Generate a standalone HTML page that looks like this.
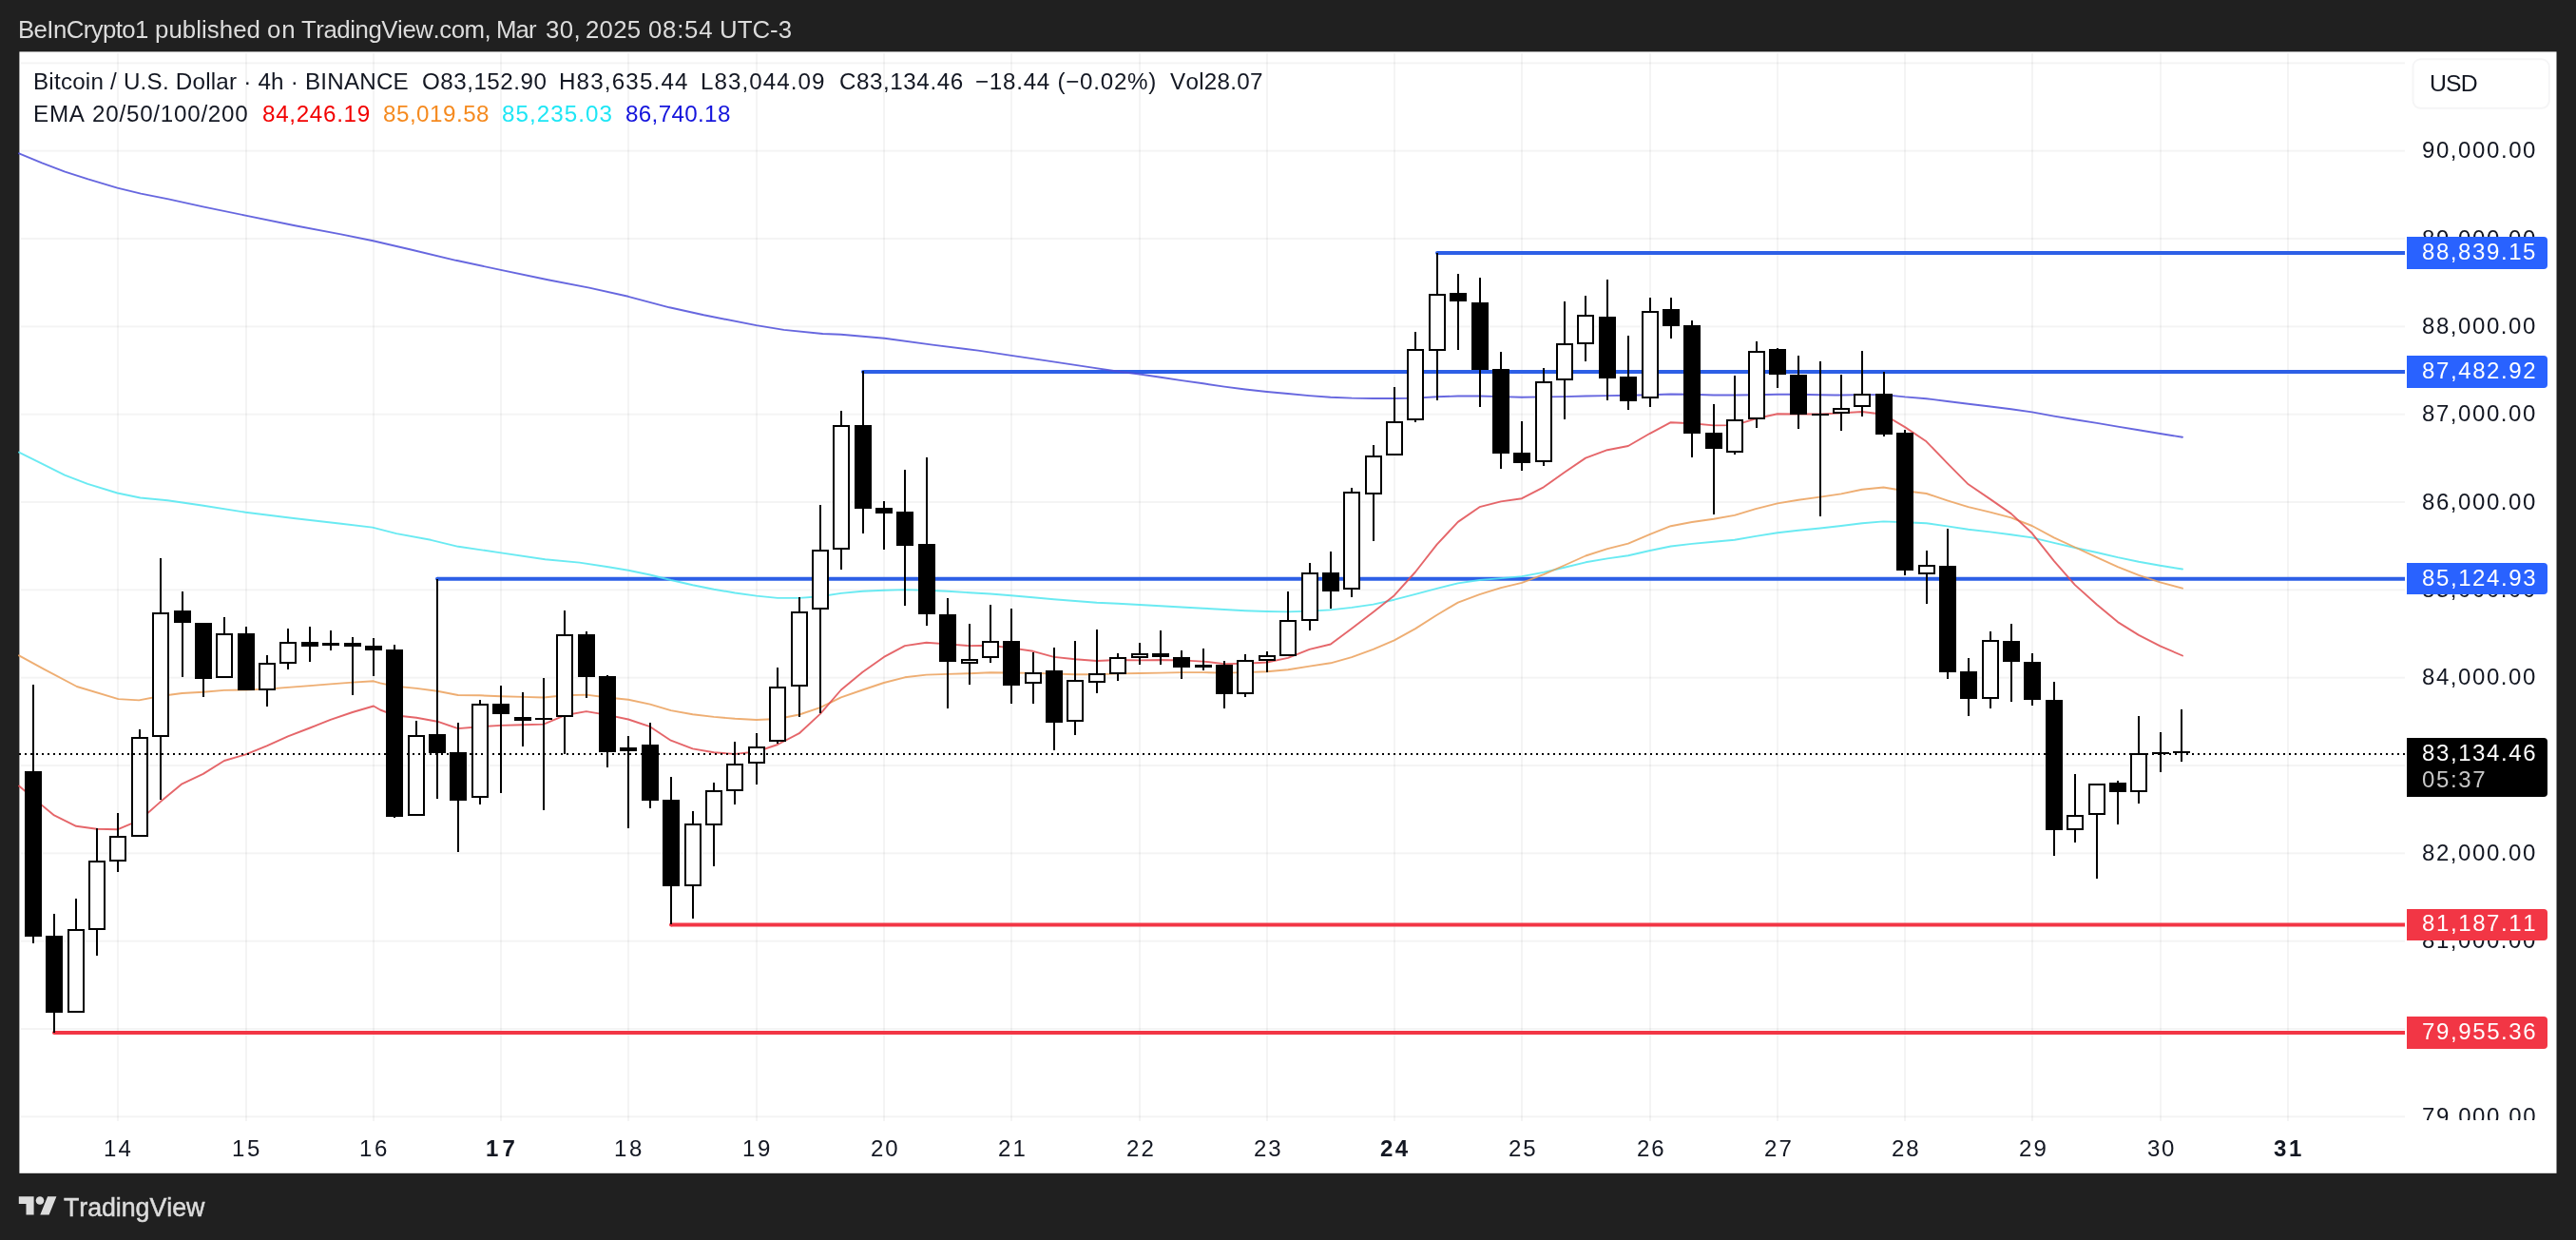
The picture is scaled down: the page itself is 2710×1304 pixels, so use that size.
<!DOCTYPE html>
<html lang="en"><head><meta charset="utf-8"><title>BTCUSD 4h chart</title>
<style>
html,body{margin:0;padding:0}
body{width:2710px;height:1304px;background:#202020;position:relative;overflow:hidden;font-family:"Liberation Sans",sans-serif}
#cv{position:absolute;left:0;top:0}
.t{position:absolute;white-space:pre;font-kerning:none;will-change:transform;}
.bx{position:absolute;left:2532px;width:148px;border-radius:0 4px 4px 0}
</style></head><body>
<svg id="cv" width="2710" height="1304" viewBox="0 0 2710 1304" shape-rendering="auto">
<rect x="20.4" y="54.4" width="2669.1" height="1179.4" fill="#ffffff"/>
<g fill="#000" fill-opacity="0.045"><rect x="123" y="56" width="2" height="1123"/><rect x="258" y="56" width="2" height="1123"/><rect x="392" y="56" width="2" height="1123"/><rect x="526" y="56" width="2" height="1123"/><rect x="660" y="56" width="2" height="1123"/><rect x="795" y="56" width="2" height="1123"/><rect x="929" y="56" width="2" height="1123"/><rect x="1063" y="56" width="2" height="1123"/><rect x="1198" y="56" width="2" height="1123"/><rect x="1332" y="56" width="2" height="1123"/><rect x="1466" y="56" width="2" height="1123"/><rect x="1600" y="56" width="2" height="1123"/><rect x="1735" y="56" width="2" height="1123"/><rect x="1869" y="56" width="2" height="1123"/><rect x="2003" y="56" width="2" height="1123"/><rect x="2137" y="56" width="2" height="1123"/><rect x="2272" y="56" width="2" height="1123"/><rect x="2406" y="56" width="2" height="1123"/><rect x="22" y="1173.3" width="2508" height="2"/><rect x="22" y="1081.0" width="2508" height="2"/><rect x="22" y="988.7" width="2508" height="2"/><rect x="22" y="896.3" width="2508" height="2"/><rect x="22" y="804.0" width="2508" height="2"/><rect x="22" y="711.7" width="2508" height="2"/><rect x="22" y="619.3" width="2508" height="2"/><rect x="22" y="527.0" width="2508" height="2"/><rect x="22" y="434.7" width="2508" height="2"/><rect x="22" y="342.4" width="2508" height="2"/><rect x="22" y="250.0" width="2508" height="2"/><rect x="22" y="157.7" width="2508" height="2"/><rect x="22" y="65.4" width="2508" height="2"/></g>
<line x1="1512" y1="265.9" x2="2530" y2="265.9" stroke="#2d5fe6" stroke-width="4" stroke-linecap="butt"/>
<circle cx="1512" cy="265.9" r="2" fill="#2d5fe6"/>
<line x1="908" y1="391.1" x2="2530" y2="391.1" stroke="#2d5fe6" stroke-width="4" stroke-linecap="butt"/>
<circle cx="908" cy="391.1" r="2" fill="#2d5fe6"/>
<line x1="460" y1="608.8" x2="2530" y2="608.8" stroke="#2d5fe6" stroke-width="4" stroke-linecap="butt"/>
<circle cx="460" cy="608.8" r="2" fill="#2d5fe6"/>
<line x1="706" y1="972.4" x2="2530" y2="972.4" stroke="#f23645" stroke-width="4" stroke-linecap="butt"/>
<circle cx="706" cy="972.4" r="2" fill="#f23645"/>
<line x1="57" y1="1086.1" x2="2530" y2="1086.1" stroke="#f23645" stroke-width="4" stroke-linecap="butt"/>
<circle cx="57" cy="1086.1" r="2" fill="#f23645"/>
<path d="M20.0,161.3 L44.2,171.4 L68.4,180.6 L92.6,188.4 L123.5,197.6 L148.2,203.6 L177.2,209.4 L213.5,217.4 L258.3,226.6 L310.3,237.2 L358.7,246.4 L392.5,253.2 L431.2,262.2 L479.6,273.8 L526.8,283.9 L576.4,294.3 L619.9,302.6 L660.9,311.8 L704.2,323.3 L740.3,331.3 L795.7,342.1 L824.6,346.9 L865.5,351.0 L884.7,351.7 L930.5,355.8 L981.0,362.6 L1029.1,368.6 L1064.0,373.9 L1101.3,379.4 L1149.5,386.6 L1173.5,390.2 L1198.8,393.5 L1221.0,396.8 L1243.2,400.1 L1265.8,403.3 L1288.0,406.6 L1310.2,409.5 L1332.8,412.0 L1355.0,414.0 L1377.6,416.1 L1399.8,417.7 L1422.0,418.6 L1444.6,419.0 L1466.8,419.0 L1489.0,418.6 L1511.6,417.3 L1533.8,416.5 L1552.3,416.5 L1556.5,416.5 L1579.0,417.1 L1601.0,417.7 L1623.9,417.4 L1645.8,417.1 L1668.1,416.5 L1691.0,416.1 L1712.9,415.8 L1735.8,415.2 L1757.7,414.5 L1780.0,414.8 L1802.9,415.5 L1824.8,415.5 L1847.1,415.2 L1870.0,414.8 L1891.9,414.8 L1914.8,415.2 L1930.6,415.5 L1936.9,415.5 L1959.0,415.1 L1981.5,415.1 L2004.0,417.4 L2026.6,419.2 L2048.6,422.0 L2070.7,424.7 L2093.7,427.5 L2115.7,430.2 L2137.8,433.4 L2160.8,437.6 L2182.9,441.3 L2205.9,444.9 L2227.9,448.6 L2250.0,452.3 L2272.5,456.0 L2296.0,459.7" fill="none" stroke="#4c4cd9" stroke-width="1.9" stroke-opacity="0.85" stroke-linejoin="round" stroke-linecap="round"/>
<path d="M20.0,475.6 L44.1,487.7 L68.1,499.7 L92.2,508.9 L123.5,518.5 L147.6,523.5 L176.4,526.2 L212.5,531.5 L258.3,538.7 L308.8,545.0 L356.9,550.5 L391.8,554.6 L417.1,561.1 L453.2,567.8 L482.1,574.8 L525.4,581.1 L573.5,588.3 L609.7,591.6 L640.0,596.2 L661.0,599.7 L683.9,604.5 L705.8,610.0 L728.7,615.2 L751.0,619.7 L773.2,623.5 L795.8,626.6 L818.1,628.9 L840.8,628.9 L862.8,627.2 L884.8,623.9 L907.5,621.8 L929.9,620.8 L951.9,620.1 L974.6,620.8 L996.9,621.8 L1019.6,623.2 L1042.0,624.5 L1063.7,626.2 L1086.7,628.3 L1108.7,630.3 L1131.1,632.0 L1153.8,633.7 L1176.2,634.8 L1198.8,636.0 L1221.0,637.3 L1243.2,638.5 L1265.8,639.7 L1288.0,641.0 L1310.2,642.2 L1332.8,643.0 L1355.0,643.4 L1377.6,642.6 L1399.8,641.4 L1422.0,638.9 L1444.6,635.6 L1466.8,630.7 L1489.0,624.9 L1511.6,618.8 L1533.8,613.4 L1556.5,610.0 L1579.0,608.1 L1601.0,606.1 L1623.9,601.9 L1645.8,596.8 L1668.1,591.3 L1691.0,587.4 L1712.9,584.2 L1735.8,579.0 L1757.7,574.5 L1780.0,571.9 L1802.9,569.7 L1824.8,567.7 L1847.1,563.9 L1870.0,560.3 L1891.9,557.7 L1914.8,555.5 L1936.9,553.0 L1959.0,550.2 L1981.5,548.4 L2004.0,549.3 L2026.6,550.2 L2048.6,553.4 L2070.7,556.7 L2093.7,559.4 L2115.7,562.2 L2137.8,565.4 L2160.8,570.9 L2182.9,576.0 L2205.9,581.0 L2227.9,586.1 L2250.0,590.7 L2272.5,594.8 L2296.0,598.5" fill="none" stroke="#50e6f0" stroke-width="1.9" stroke-opacity="0.85" stroke-linejoin="round" stroke-linecap="round"/>
<path d="M20.0,689.3 L46.1,703.7 L80.9,722.0 L124.5,735.1 L146.2,736.4 L168.9,732.0 L191.5,729.0 L213.7,727.7 L235.9,725.9 L258.5,725.5 L280.7,724.6 L302.9,722.9 L326.0,721.1 L347.7,719.4 L370.8,717.6 L393.0,716.3 L400.0,718.4 L415.2,721.6 L438.1,723.9 L460.0,726.8 L481.9,731.0 L504.8,731.3 L526.8,732.3 L550.0,732.9 L571.9,733.5 L593.9,731.3 L616.8,730.6 L639.0,733.5 L661.0,735.8 L683.9,740.6 L705.8,747.1 L728.7,751.3 L751.0,753.9 L773.2,755.8 L795.8,757.0 L818.1,756.0 L840.8,751.5 L862.8,744.1 L884.8,733.3 L907.5,725.5 L929.9,718.0 L951.9,712.3 L974.6,709.6 L996.9,708.9 L1019.6,708.2 L1042.0,707.2 L1063.7,707.5 L1086.7,707.9 L1108.7,708.5 L1131.1,709.2 L1153.8,709.2 L1176.2,708.4 L1198.8,708.0 L1221.0,707.6 L1243.2,707.1 L1265.8,707.1 L1288.0,707.6 L1310.2,707.1 L1332.8,706.3 L1355.0,704.3 L1377.6,700.6 L1399.8,697.3 L1422.0,691.1 L1444.6,682.9 L1466.8,673.4 L1489.0,661.1 L1511.6,646.7 L1533.8,633.6 L1556.5,625.2 L1579.0,618.1 L1601.0,612.9 L1623.9,604.2 L1645.8,594.5 L1668.1,584.5 L1691.0,577.1 L1712.9,571.6 L1735.8,561.9 L1757.7,553.2 L1780.0,549.0 L1802.9,545.8 L1824.8,541.9 L1847.1,535.2 L1870.0,529.4 L1891.9,525.8 L1914.8,522.6 L1936.9,519.4 L1959.0,514.8 L1981.5,512.5 L2004.0,516.2 L2026.6,519.0 L2048.6,526.3 L2070.7,533.2 L2093.7,538.7 L2115.7,544.3 L2137.8,553.0 L2160.8,565.4 L2182.9,575.5 L2205.9,586.1 L2227.9,596.2 L2250.0,604.9 L2272.5,612.3 L2296.0,618.7" fill="none" stroke="#eba05a" stroke-width="1.9" stroke-opacity="0.85" stroke-linejoin="round" stroke-linecap="round"/>
<path d="M20.0,826.5 L34.8,839.1 L57.0,857.4 L80.1,868.8 L101.8,871.8 L124.0,872.2 L146.7,862.7 L168.9,843.1 L191.5,824.3 L213.7,813.9 L235.9,800.0 L258.5,793.4 L280.7,784.3 L302.9,774.3 L326.0,765.5 L347.7,756.8 L370.8,749.0 L393.0,742.5 L400.0,746.5 L415.2,752.3 L438.1,754.8 L460.0,758.7 L481.9,766.1 L504.8,764.2 L526.8,762.9 L550.0,762.3 L571.9,761.6 L593.9,752.3 L616.8,748.1 L639.0,751.9 L661.0,756.5 L683.9,764.2 L705.8,778.7 L728.7,787.4 L751.0,791.3 L773.2,792.9 L795.8,790.5 L818.1,783.0 L840.8,771.2 L862.8,750.9 L884.8,725.5 L907.5,706.8 L929.9,690.9 L951.9,679.1 L974.6,675.7 L996.9,677.4 L1019.6,679.1 L1042.0,678.7 L1063.7,681.4 L1086.7,684.8 L1108.7,690.9 L1131.1,693.3 L1153.8,695.0 L1176.2,694.0 L1198.8,694.4 L1221.0,694.0 L1243.2,694.4 L1265.8,695.6 L1288.0,698.1 L1310.2,697.7 L1332.8,696.5 L1355.0,691.9 L1377.6,682.9 L1399.8,677.5 L1422.0,661.1 L1444.6,643.8 L1466.8,626.2 L1489.0,601.5 L1511.6,572.7 L1533.8,548.9 L1556.5,533.2 L1579.0,527.4 L1601.0,524.2 L1623.9,512.3 L1645.8,496.8 L1668.1,481.6 L1691.0,473.2 L1712.9,469.0 L1735.8,455.8 L1757.7,444.2 L1780.0,445.2 L1802.9,447.4 L1824.8,447.1 L1847.1,440.3 L1870.0,435.2 L1891.9,435.5 L1914.8,435.5 L1936.9,434.4 L1959.0,433.0 L1981.5,435.7 L2004.0,449.1 L2026.6,464.3 L2048.6,487.2 L2070.7,509.3 L2093.7,524.9 L2115.7,540.1 L2137.8,560.8 L2160.8,589.8 L2182.9,615.1 L2205.9,635.7 L2227.9,654.1 L2250.0,667.9 L2272.5,679.4 L2296.0,689.5" fill="none" stroke="#e14b50" stroke-width="1.9" stroke-opacity="0.85" stroke-linejoin="round" stroke-linecap="round"/>
<g shape-rendering="crispEdges"><rect x="34" y="720" width="2" height="272" fill="#000"/><rect x="26" y="811" width="18" height="174" fill="#000"/><rect x="56" y="961" width="2" height="125" fill="#000"/><rect x="48" y="984" width="18" height="81" fill="#000"/><rect x="79" y="945" width="2" height="120" fill="#000"/><rect x="72" y="978" width="16" height="86" fill="#fff" stroke="#000" stroke-width="2"/><rect x="101" y="871" width="2" height="134" fill="#000"/><rect x="94" y="906" width="16" height="71" fill="#fff" stroke="#000" stroke-width="2"/><rect x="123" y="855" width="2" height="62" fill="#000"/><rect x="116" y="880" width="16" height="25" fill="#fff" stroke="#000" stroke-width="2"/><rect x="146" y="767" width="2" height="113" fill="#000"/><rect x="139" y="776" width="16" height="103" fill="#fff" stroke="#000" stroke-width="2"/><rect x="168" y="587" width="2" height="254" fill="#000"/><rect x="161" y="645" width="16" height="129" fill="#fff" stroke="#000" stroke-width="2"/><rect x="191" y="622" width="2" height="90" fill="#000"/><rect x="183" y="642" width="18" height="13" fill="#000"/><rect x="213" y="655" width="2" height="78" fill="#000"/><rect x="205" y="655" width="18" height="59" fill="#000"/><rect x="235" y="649" width="2" height="64" fill="#000"/><rect x="228" y="667" width="16" height="45" fill="#fff" stroke="#000" stroke-width="2"/><rect x="258" y="659" width="2" height="67" fill="#000"/><rect x="250" y="666" width="18" height="60" fill="#000"/><rect x="280" y="689" width="2" height="54" fill="#000"/><rect x="273" y="698" width="16" height="27" fill="#fff" stroke="#000" stroke-width="2"/><rect x="302" y="661" width="2" height="43" fill="#000"/><rect x="295" y="676" width="16" height="21" fill="#fff" stroke="#000" stroke-width="2"/><rect x="325" y="659" width="2" height="37" fill="#000"/><rect x="317" y="675" width="18" height="5" fill="#000"/><rect x="347" y="663" width="2" height="21" fill="#000"/><rect x="339" y="676" width="18" height="3" fill="#000"/><rect x="370" y="670" width="2" height="61" fill="#000"/><rect x="362" y="676" width="18" height="4" fill="#000"/><rect x="392" y="671" width="2" height="40" fill="#000"/><rect x="384" y="679" width="18" height="5" fill="#000"/><rect x="414" y="678" width="2" height="182" fill="#000"/><rect x="406" y="683" width="18" height="176" fill="#000"/><rect x="437" y="758" width="2" height="100" fill="#000"/><rect x="430" y="774" width="16" height="83" fill="#fff" stroke="#000" stroke-width="2"/><rect x="459" y="609" width="2" height="231" fill="#000"/><rect x="451" y="772" width="18" height="20" fill="#000"/><rect x="481" y="760" width="2" height="136" fill="#000"/><rect x="473" y="791" width="18" height="51" fill="#000"/><rect x="504" y="736" width="2" height="110" fill="#000"/><rect x="497" y="741" width="16" height="97" fill="#fff" stroke="#000" stroke-width="2"/><rect x="526" y="721" width="2" height="113" fill="#000"/><rect x="518" y="740" width="18" height="11" fill="#000"/><rect x="549" y="728" width="2" height="57" fill="#000"/><rect x="541" y="754" width="18" height="4" fill="#000"/><rect x="571" y="713" width="2" height="139" fill="#000"/><rect x="563" y="755" width="18" height="2" fill="#000"/><rect x="593" y="642" width="2" height="151" fill="#000"/><rect x="586" y="668" width="16" height="85" fill="#fff" stroke="#000" stroke-width="2"/><rect x="616" y="664" width="2" height="70" fill="#000"/><rect x="608" y="667" width="18" height="45" fill="#000"/><rect x="638" y="710" width="2" height="97" fill="#000"/><rect x="630" y="711" width="18" height="80" fill="#000"/><rect x="660" y="774" width="2" height="97" fill="#000"/><rect x="652" y="786" width="18" height="4" fill="#000"/><rect x="683" y="760" width="2" height="90" fill="#000"/><rect x="675" y="783" width="18" height="59" fill="#000"/><rect x="705" y="817" width="2" height="155" fill="#000"/><rect x="697" y="841" width="18" height="91" fill="#000"/><rect x="728" y="853" width="2" height="113" fill="#000"/><rect x="721" y="867" width="16" height="64" fill="#fff" stroke="#000" stroke-width="2"/><rect x="750" y="823" width="2" height="88" fill="#000"/><rect x="743" y="832" width="16" height="35" fill="#fff" stroke="#000" stroke-width="2"/><rect x="772" y="780" width="2" height="66" fill="#000"/><rect x="765" y="804" width="16" height="27" fill="#fff" stroke="#000" stroke-width="2"/><rect x="795" y="771" width="2" height="54" fill="#000"/><rect x="788" y="786" width="16" height="16" fill="#fff" stroke="#000" stroke-width="2"/><rect x="817" y="702" width="2" height="80" fill="#000"/><rect x="810" y="723" width="16" height="56" fill="#fff" stroke="#000" stroke-width="2"/><rect x="840" y="628" width="2" height="126" fill="#000"/><rect x="833" y="644" width="16" height="77" fill="#fff" stroke="#000" stroke-width="2"/><rect x="862" y="531" width="2" height="219" fill="#000"/><rect x="855" y="579" width="16" height="61" fill="#fff" stroke="#000" stroke-width="2"/><rect x="884" y="432" width="2" height="167" fill="#000"/><rect x="877" y="448" width="16" height="129" fill="#fff" stroke="#000" stroke-width="2"/><rect x="907" y="390" width="2" height="171" fill="#000"/><rect x="899" y="447" width="18" height="88" fill="#000"/><rect x="929" y="527" width="2" height="51" fill="#000"/><rect x="921" y="534" width="18" height="6" fill="#000"/><rect x="951" y="494" width="2" height="143" fill="#000"/><rect x="943" y="538" width="18" height="36" fill="#000"/><rect x="974" y="481" width="2" height="177" fill="#000"/><rect x="966" y="572" width="18" height="74" fill="#000"/><rect x="996" y="629" width="2" height="116" fill="#000"/><rect x="988" y="646" width="18" height="50" fill="#000"/><rect x="1019" y="656" width="2" height="64" fill="#000"/><rect x="1012" y="694" width="16" height="3" fill="#fff" stroke="#000" stroke-width="2"/><rect x="1041" y="636" width="2" height="61" fill="#000"/><rect x="1034" y="675" width="16" height="16" fill="#fff" stroke="#000" stroke-width="2"/><rect x="1063" y="640" width="2" height="100" fill="#000"/><rect x="1055" y="674" width="18" height="47" fill="#000"/><rect x="1086" y="686" width="2" height="54" fill="#000"/><rect x="1079" y="708" width="16" height="10" fill="#fff" stroke="#000" stroke-width="2"/><rect x="1108" y="681" width="2" height="108" fill="#000"/><rect x="1100" y="705" width="18" height="55" fill="#000"/><rect x="1130" y="674" width="2" height="99" fill="#000"/><rect x="1123" y="716" width="16" height="42" fill="#fff" stroke="#000" stroke-width="2"/><rect x="1153" y="662" width="2" height="67" fill="#000"/><rect x="1146" y="709" width="16" height="8" fill="#fff" stroke="#000" stroke-width="2"/><rect x="1175" y="687" width="2" height="29" fill="#000"/><rect x="1168" y="692" width="16" height="16" fill="#fff" stroke="#000" stroke-width="2"/><rect x="1198" y="676" width="2" height="23" fill="#000"/><rect x="1191" y="688" width="16" height="3" fill="#fff" stroke="#000" stroke-width="2"/><rect x="1220" y="663" width="2" height="36" fill="#000"/><rect x="1212" y="687" width="18" height="4" fill="#000"/><rect x="1242" y="684" width="2" height="30" fill="#000"/><rect x="1234" y="691" width="18" height="11" fill="#000"/><rect x="1265" y="682" width="2" height="23" fill="#000"/><rect x="1257" y="699" width="18" height="3" fill="#000"/><rect x="1287" y="695" width="2" height="50" fill="#000"/><rect x="1279" y="699" width="18" height="31" fill="#000"/><rect x="1309" y="688" width="2" height="45" fill="#000"/><rect x="1302" y="695" width="16" height="34" fill="#fff" stroke="#000" stroke-width="2"/><rect x="1332" y="685" width="2" height="22" fill="#000"/><rect x="1325" y="690" width="16" height="4" fill="#fff" stroke="#000" stroke-width="2"/><rect x="1354" y="622" width="2" height="68" fill="#000"/><rect x="1347" y="653" width="16" height="36" fill="#fff" stroke="#000" stroke-width="2"/><rect x="1377" y="592" width="2" height="71" fill="#000"/><rect x="1370" y="603" width="16" height="49" fill="#fff" stroke="#000" stroke-width="2"/><rect x="1399" y="580" width="2" height="60" fill="#000"/><rect x="1391" y="602" width="18" height="20" fill="#000"/><rect x="1421" y="513" width="2" height="115" fill="#000"/><rect x="1414" y="518" width="16" height="101" fill="#fff" stroke="#000" stroke-width="2"/><rect x="1444" y="468" width="2" height="101" fill="#000"/><rect x="1437" y="480" width="16" height="39" fill="#fff" stroke="#000" stroke-width="2"/><rect x="1466" y="407" width="2" height="72" fill="#000"/><rect x="1459" y="444" width="16" height="34" fill="#fff" stroke="#000" stroke-width="2"/><rect x="1488" y="349" width="2" height="95" fill="#000"/><rect x="1481" y="368" width="16" height="73" fill="#fff" stroke="#000" stroke-width="2"/><rect x="1511" y="266" width="2" height="155" fill="#000"/><rect x="1504" y="310" width="16" height="58" fill="#fff" stroke="#000" stroke-width="2"/><rect x="1533" y="288" width="2" height="80" fill="#000"/><rect x="1525" y="308" width="18" height="9" fill="#000"/><rect x="1556" y="292" width="2" height="136" fill="#000"/><rect x="1548" y="318" width="18" height="71" fill="#000"/><rect x="1578" y="370" width="2" height="123" fill="#000"/><rect x="1570" y="388" width="18" height="89" fill="#000"/><rect x="1600" y="443" width="2" height="52" fill="#000"/><rect x="1592" y="476" width="18" height="11" fill="#000"/><rect x="1623" y="387" width="2" height="103" fill="#000"/><rect x="1616" y="402" width="16" height="83" fill="#fff" stroke="#000" stroke-width="2"/><rect x="1645" y="317" width="2" height="124" fill="#000"/><rect x="1638" y="362" width="16" height="37" fill="#fff" stroke="#000" stroke-width="2"/><rect x="1667" y="311" width="2" height="69" fill="#000"/><rect x="1660" y="332" width="16" height="29" fill="#fff" stroke="#000" stroke-width="2"/><rect x="1690" y="294" width="2" height="127" fill="#000"/><rect x="1682" y="333" width="18" height="65" fill="#000"/><rect x="1712" y="353" width="2" height="78" fill="#000"/><rect x="1704" y="396" width="18" height="26" fill="#000"/><rect x="1735" y="313" width="2" height="115" fill="#000"/><rect x="1728" y="328" width="16" height="90" fill="#fff" stroke="#000" stroke-width="2"/><rect x="1757" y="313" width="2" height="43" fill="#000"/><rect x="1749" y="325" width="18" height="18" fill="#000"/><rect x="1779" y="337" width="2" height="144" fill="#000"/><rect x="1771" y="342" width="18" height="114" fill="#000"/><rect x="1802" y="425" width="2" height="116" fill="#000"/><rect x="1794" y="455" width="18" height="17" fill="#000"/><rect x="1824" y="395" width="2" height="83" fill="#000"/><rect x="1817" y="442" width="16" height="33" fill="#fff" stroke="#000" stroke-width="2"/><rect x="1847" y="359" width="2" height="91" fill="#000"/><rect x="1840" y="370" width="16" height="70" fill="#fff" stroke="#000" stroke-width="2"/><rect x="1869" y="366" width="2" height="42" fill="#000"/><rect x="1861" y="367" width="18" height="27" fill="#000"/><rect x="1891" y="374" width="2" height="77" fill="#000"/><rect x="1883" y="394" width="18" height="42" fill="#000"/><rect x="1914" y="380" width="2" height="163" fill="#000"/><rect x="1906" y="435" width="18" height="2" fill="#000"/><rect x="1936" y="394" width="2" height="59" fill="#000"/><rect x="1929" y="430" width="16" height="4" fill="#fff" stroke="#000" stroke-width="2"/><rect x="1958" y="369" width="2" height="69" fill="#000"/><rect x="1951" y="415" width="16" height="12" fill="#fff" stroke="#000" stroke-width="2"/><rect x="1981" y="391" width="2" height="68" fill="#000"/><rect x="1973" y="414" width="18" height="43" fill="#000"/><rect x="2003" y="452" width="2" height="153" fill="#000"/><rect x="1995" y="455" width="18" height="145" fill="#000"/><rect x="2026" y="579" width="2" height="56" fill="#000"/><rect x="2019" y="595" width="16" height="8" fill="#fff" stroke="#000" stroke-width="2"/><rect x="2048" y="556" width="2" height="158" fill="#000"/><rect x="2040" y="595" width="18" height="112" fill="#000"/><rect x="2070" y="692" width="2" height="61" fill="#000"/><rect x="2062" y="706" width="18" height="29" fill="#000"/><rect x="2093" y="664" width="2" height="81" fill="#000"/><rect x="2086" y="674" width="16" height="60" fill="#fff" stroke="#000" stroke-width="2"/><rect x="2115" y="656" width="2" height="82" fill="#000"/><rect x="2107" y="674" width="18" height="22" fill="#000"/><rect x="2137" y="687" width="2" height="55" fill="#000"/><rect x="2129" y="696" width="18" height="40" fill="#000"/><rect x="2160" y="717" width="2" height="183" fill="#000"/><rect x="2152" y="736" width="18" height="137" fill="#000"/><rect x="2182" y="814" width="2" height="72" fill="#000"/><rect x="2175" y="858" width="16" height="14" fill="#fff" stroke="#000" stroke-width="2"/><rect x="2205" y="824" width="2" height="100" fill="#000"/><rect x="2198" y="825" width="16" height="31" fill="#fff" stroke="#000" stroke-width="2"/><rect x="2227" y="821" width="2" height="46" fill="#000"/><rect x="2219" y="823" width="18" height="10" fill="#000"/><rect x="2249" y="753" width="2" height="92" fill="#000"/><rect x="2242" y="793" width="16" height="39" fill="#fff" stroke="#000" stroke-width="2"/><rect x="2272" y="770" width="2" height="42" fill="#000"/><rect x="2264" y="791" width="18" height="2" fill="#000"/><rect x="2294" y="746" width="2" height="55" fill="#000"/><rect x="2286" y="790" width="18" height="2" fill="#000"/></g>
<line x1="20" y1="793" x2="2530" y2="793" stroke="#000" stroke-width="2" stroke-dasharray="2 4" shape-rendering="crispEdges"/>
<rect x="2538.5" y="62.3" width="143.3" height="51.5" rx="8" fill="#fff" stroke="#f5f5f6" stroke-width="2"/>
</svg>
<div class="t" style="left:2547.87px;top:1162.01px;font-size:24px;line-height:24px;color:#131722;letter-spacing:1.6px;clip-path:inset(0 0 8.6px 0);">79,000.00</div><div class="t" style="left:2548.06px;top:977.35px;font-size:24px;line-height:24px;color:#131722;letter-spacing:1.576px;">81,000.00</div><div class="t" style="left:2548.06px;top:885.02px;font-size:24px;line-height:24px;color:#131722;letter-spacing:1.576px;">82,000.00</div><div class="t" style="left:2548.06px;top:792.69px;font-size:24px;line-height:24px;color:#131722;letter-spacing:1.576px;">83,000.00</div><div class="t" style="left:2548.06px;top:700.36px;font-size:24px;line-height:24px;color:#131722;letter-spacing:1.576px;">84,000.00</div><div class="t" style="left:2548.06px;top:608.03px;font-size:24px;line-height:24px;color:#131722;letter-spacing:1.576px;">85,000.00</div><div class="t" style="left:2548.06px;top:515.70px;font-size:24px;line-height:24px;color:#131722;letter-spacing:1.576px;">86,000.00</div><div class="t" style="left:2548.06px;top:423.37px;font-size:24px;line-height:24px;color:#131722;letter-spacing:1.576px;">87,000.00</div><div class="t" style="left:2548.06px;top:331.04px;font-size:24px;line-height:24px;color:#131722;letter-spacing:1.576px;">88,000.00</div><div class="t" style="left:2548.06px;top:238.71px;font-size:24px;line-height:24px;color:#131722;letter-spacing:1.576px;">89,000.00</div><div class="t" style="left:2547.97px;top:146.38px;font-size:24px;line-height:24px;color:#131722;letter-spacing:1.587px;">90,000.00</div>
<div class="bx" style="top:249.2px;height:33.4px;background:#2962ff"></div><div class="bx" style="top:374.4px;height:33.4px;background:#2962ff"></div><div class="bx" style="top:592.1px;height:33.4px;background:#2962ff"></div><div class="bx" style="top:955.7px;height:33.4px;background:#f23645"></div><div class="bx" style="top:1069.4px;height:33.4px;background:#f23645"></div><div class="bx" style="top:776px;height:61.8px;background:#000"></div>
<div class="t" style="left:19.48px;top:19.06px;font-size:25.8px;line-height:25.8px;color:#dcdcdc;letter-spacing:-0.594px;">BeInCrypto1</div><div class="t" style="left:163.44px;top:19.06px;font-size:25.8px;line-height:25.8px;color:#dcdcdc;letter-spacing:0.059px;">published</div><div class="t" style="left:280.52px;top:19.06px;font-size:25.8px;line-height:25.8px;color:#dcdcdc;letter-spacing:0.961px;">on</div><div class="t" style="left:316.82px;top:19.06px;font-size:25.8px;line-height:25.8px;color:#dcdcdc;letter-spacing:-0.445px;">TradingView.com,</div><div class="t" style="left:522.48px;top:19.06px;font-size:25.8px;line-height:25.8px;color:#dcdcdc;letter-spacing:-0.944px;">Mar</div><div class="t" style="left:573.72px;top:19.06px;font-size:25.8px;line-height:25.8px;color:#dcdcdc;letter-spacing:0.368px;">30,</div><div class="t" style="left:616.3px;top:19.06px;font-size:25.8px;line-height:25.8px;color:#dcdcdc;letter-spacing:0.229px;">2025</div><div class="t" style="left:681.99px;top:19.06px;font-size:25.8px;line-height:25.8px;color:#dcdcdc;letter-spacing:0.75px;">08:54</div><div class="t" style="left:756.71px;top:19.06px;font-size:25.8px;line-height:25.8px;color:#dcdcdc;letter-spacing:0.015px;">UTC-3</div><div class="t" style="left:35.31px;top:73.51px;font-size:24.2px;line-height:24.2px;color:#131722;letter-spacing:0.218px;">Bitcoin / U.S. Dollar · 4h · BINANCE</div><div class="t" style="left:443.65px;top:73.51px;font-size:24.2px;line-height:24.2px;color:#131722;letter-spacing:0.49px;">O83,152.90</div><div class="t" style="left:587.71px;top:73.51px;font-size:24.2px;line-height:24.2px;color:#131722;letter-spacing:1.151px;">H83,635.44</div><div class="t" style="left:737.41px;top:73.51px;font-size:24.2px;line-height:24.2px;color:#131722;letter-spacing:1.057px;">L83,044.09</div><div class="t" style="left:882.57px;top:73.51px;font-size:24.2px;line-height:24.2px;color:#131722;letter-spacing:0.562px;">C83,134.46</div><div class="t" style="left:1026.41px;top:73.51px;font-size:24.2px;line-height:24.2px;color:#131722;letter-spacing:0.729px;">−18.44 (−0.02%)</div><div class="t" style="left:1231.39px;top:73.51px;font-size:24.2px;line-height:24.2px;color:#131722;letter-spacing:0.284px;">Vol28.07</div><div class="t" style="left:35.31px;top:108.41px;font-size:24.2px;line-height:24.2px;color:#131722;letter-spacing:0.744px;">EMA 20/50/100/200</div><div class="t" style="left:275.55px;top:108.41px;font-size:24.2px;line-height:24.2px;color:#f20000;letter-spacing:0.692px;">84,246.19</div><div class="t" style="left:402.65px;top:108.41px;font-size:24.2px;line-height:24.2px;color:#f58a1f;letter-spacing:0.493px;">85,019.58</div><div class="t" style="left:528.25px;top:108.41px;font-size:24.2px;line-height:24.2px;color:#1ee6f5;letter-spacing:1.057px;">85,235.03</div><div class="t" style="left:657.85px;top:108.41px;font-size:24.2px;line-height:24.2px;color:#1414dc;letter-spacing:0.343px;">86,740.18</div><div class="t" style="left:2555.79px;top:75.81px;font-size:24.8px;line-height:24.8px;color:#131722;letter-spacing:-0.83px;">USD</div><div class="t" style="left:2548.06px;top:252.57px;font-size:24px;line-height:24px;color:#fff;letter-spacing:1.585px;">88,839.15</div><div class="t" style="left:2548.06px;top:377.79px;font-size:24px;line-height:24px;color:#fff;letter-spacing:1.61px;">87,482.92</div><div class="t" style="left:2548.06px;top:595.50px;font-size:24px;line-height:24px;color:#fff;letter-spacing:1.591px;">85,124.93</div><div class="t" style="left:2548.06px;top:959.08px;font-size:24px;line-height:24px;color:#fff;letter-spacing:1.606px;">81,187.11</div><div class="t" style="left:2547.87px;top:1072.81px;font-size:24px;line-height:24px;color:#fff;letter-spacing:1.614px;">79,955.36</div><div class="t" style="left:2548.06px;top:779.88px;font-size:24px;line-height:24px;color:#fff;letter-spacing:1.591px;">83,134.46</div><div class="t" style="left:2548.46px;top:808.38px;font-size:24px;line-height:24px;color:#c8c8c8;letter-spacing:1.621px;">05:37</div><div class="t" style="left:108.97px;top:1195.58px;font-size:24px;line-height:24px;color:#131722;letter-spacing:2.236px;">14</div><div class="t" style="left:243.97px;top:1195.58px;font-size:24px;line-height:24px;color:#131722;letter-spacing:2.541px;">15</div><div class="t" style="left:377.97px;top:1195.58px;font-size:24px;line-height:24px;color:#131722;letter-spacing:2.587px;">16</div><div class="t" style="left:511.39px;top:1195.58px;font-size:24px;line-height:24px;color:#131722;letter-spacing:4.071px;font-weight:bold;">17</div><div class="t" style="left:645.97px;top:1195.58px;font-size:24px;line-height:24px;color:#131722;letter-spacing:2.576px;">18</div><div class="t" style="left:780.97px;top:1195.58px;font-size:24px;line-height:24px;color:#131722;letter-spacing:2.67px;">19</div><div class="t" style="left:915.59px;top:1195.58px;font-size:24px;line-height:24px;color:#131722;letter-spacing:1.849px;">20</div><div class="t" style="left:1049.59px;top:1195.58px;font-size:24px;line-height:24px;color:#131722;letter-spacing:2.084px;">21</div><div class="t" style="left:1184.59px;top:1195.58px;font-size:24px;line-height:24px;color:#131722;letter-spacing:2.119px;">22</div><div class="t" style="left:1318.59px;top:1195.58px;font-size:24px;line-height:24px;color:#131722;letter-spacing:1.966px;">23</div><div class="t" style="left:1452.07px;top:1195.58px;font-size:24px;line-height:24px;color:#131722;letter-spacing:2.466px;font-weight:bold;">24</div><div class="t" style="left:1586.59px;top:1195.58px;font-size:24px;line-height:24px;color:#131722;letter-spacing:1.92px;">25</div><div class="t" style="left:1721.59px;top:1195.58px;font-size:24px;line-height:24px;color:#131722;letter-spacing:1.966px;">26</div><div class="t" style="left:1855.59px;top:1195.58px;font-size:24px;line-height:24px;color:#131722;letter-spacing:2.119px;">27</div><div class="t" style="left:1989.59px;top:1195.58px;font-size:24px;line-height:24px;color:#131722;letter-spacing:1.955px;">28</div><div class="t" style="left:2123.59px;top:1195.58px;font-size:24px;line-height:24px;color:#131722;letter-spacing:2.048px;">29</div><div class="t" style="left:2258.89px;top:1195.58px;font-size:24px;line-height:24px;color:#131722;letter-spacing:1.556px;">30</div><div class="t" style="left:2392.35px;top:1195.58px;font-size:24px;line-height:24px;color:#131722;letter-spacing:2.723px;font-weight:bold;">31</div><div class="t" style="left:66.6px;top:1256.91px;font-size:26.8px;line-height:26.8px;color:#dcdcdc;letter-spacing:-0.062px;-webkit-text-stroke:0.5px #dcdcdc;">TradingView</div>
<svg style="position:absolute;left:0;top:1240px" width="80" height="60" viewBox="0 1240 80 60"><path fill="#dcdcdc" d="M19.8,1258.2 H35.6 V1277.5 H27.5 V1265.9 H19.8 Z M50.1,1258.2 H59.4 L51.6,1277.5 H42.3 Z"/><circle cx="42.0" cy="1262.5" r="4.3" fill="#dcdcdc"/></svg>
</body></html>
